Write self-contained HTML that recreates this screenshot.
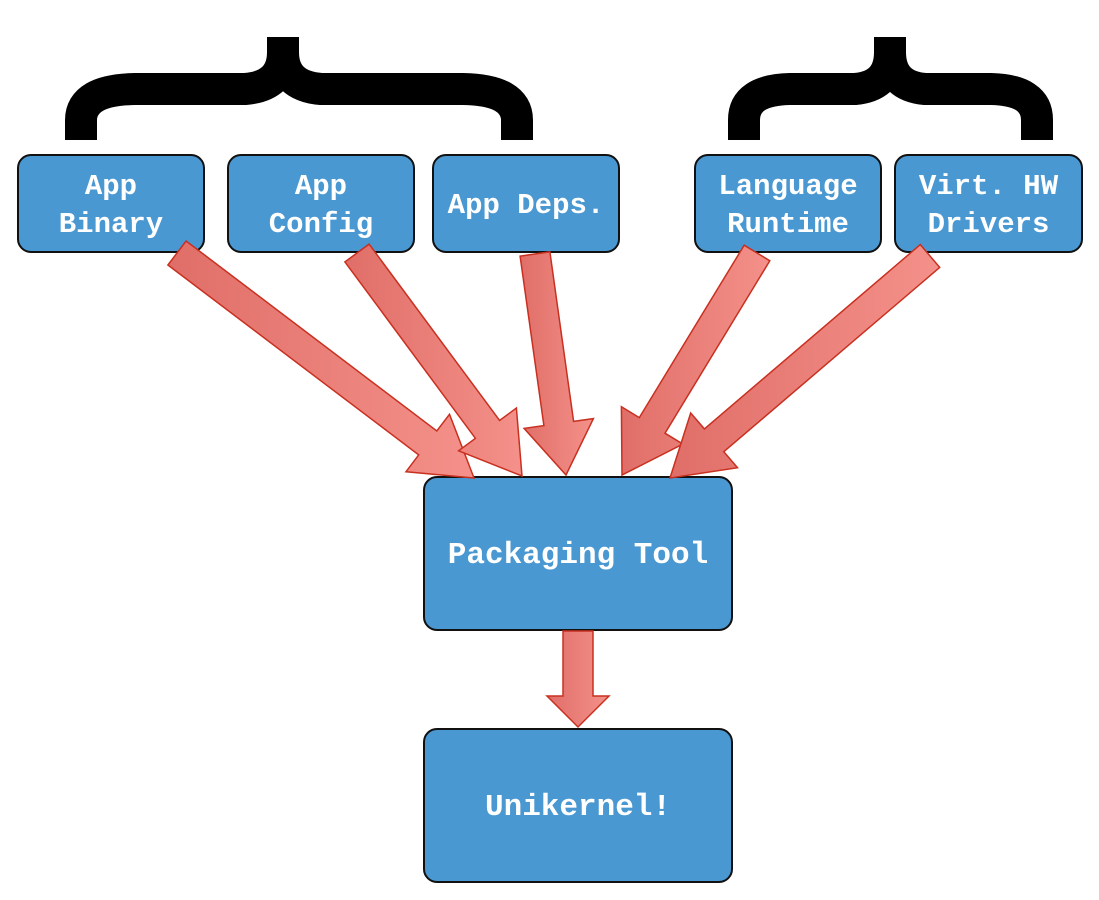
<!DOCTYPE html>
<html><head><meta charset="utf-8"><style>
html,body{margin:0;padding:0;background:#fff;}
body{width:1099px;height:900px;position:relative;overflow:hidden;}
.b{position:absolute;background:#4a98d2;border:2px solid #111;border-radius:14px;box-sizing:border-box;display:flex;align-items:center;justify-content:center;text-align:center;color:#fff;font-family:"Liberation Mono",monospace;font-weight:bold;font-size:29px;line-height:38px;padding-top:4px;}
svg{position:absolute;left:0;top:0;}
</style></head><body>
<div class="b" style="left:17px;top:154px;width:188px;height:99px;">App<br>Binary</div>
<div class="b" style="left:227px;top:154px;width:188px;height:99px;">App<br>Config</div>
<div class="b" style="left:432px;top:154px;width:188px;height:99px;">App Deps.</div>
<div class="b" style="left:694px;top:154px;width:188px;height:99px;">Language<br>Runtime</div>
<div class="b" style="left:894px;top:154px;width:189px;height:99px;">Virt. HW<br>Drivers</div>
<div class="b" style="left:423px;top:476px;width:310px;height:155px;font-size:31px;">Packaging Tool</div>
<div class="b" style="left:423px;top:728px;width:310px;height:155px;font-size:31px;">Unikernel!</div>
<svg width="1099" height="900" id="s">
<defs><linearGradient id="g" x1="0" y1="0" x2="1" y2="0"><stop offset="0" stop-color="#e06e68"/><stop offset="1" stop-color="#f4918a"/></linearGradient></defs>
<path d="M81,140 V120 Q81,90 135,89 H245 Q283,86 283,52 V37" fill="none" stroke="#000" stroke-width="32"/>
<path d="M517,140 V120 Q517,90 463,89 H321 Q283,86 283,52 V37" fill="none" stroke="#000" stroke-width="32"/>
<path d="M744,140 V120 Q744,90 790,89 H855 Q890,86 890,52 V37" fill="none" stroke="#000" stroke-width="32"/>
<path d="M1037,140 V120 Q1037,90 991,89 H925 Q890,86 890,52 V37" fill="none" stroke="#000" stroke-width="32"/>
</svg>
<script>
var s=document.getElementById('s');
function arrow(x1,y1,x2,y2,sw,hw,hl){
 var dx=x2-x1,dy=y2-y1,L=Math.hypot(dx,dy),ux=dx/L,uy=dy/L,nx=-uy,ny=ux;
 var bx=x2-ux*hl,by=y2-uy*hl,p=[];
 function pt(x,y){p.push(x.toFixed(1)+','+y.toFixed(1));}
 pt(x1+nx*sw/2,y1+ny*sw/2);pt(bx+nx*sw/2,by+ny*sw/2);pt(bx+nx*hw/2,by+ny*hw/2);pt(x2,y2);
 pt(bx-nx*hw/2,by-ny*hw/2);pt(bx-nx*sw/2,by-ny*sw/2);pt(x1-nx*sw/2,y1-ny*sw/2);
 var e=document.createElementNS('http://www.w3.org/2000/svg','polygon');
 e.setAttribute('points',p.join(' '));e.setAttribute('fill','url(#g)');e.setAttribute('stroke','#c83020');e.setAttribute('stroke-width','1.5');
 s.appendChild(e);
}
arrow(177,253,474,478,30,72,58);
arrow(357,253,522,476,30,72,58);
arrow(535,254,566,475,30,70,52);
arrow(757,253,622,475,30,72,58);
arrow(930,256,670,478,30,72,58);
arrow(578,631,578,727,30,62,31);
</script>
</body></html>
